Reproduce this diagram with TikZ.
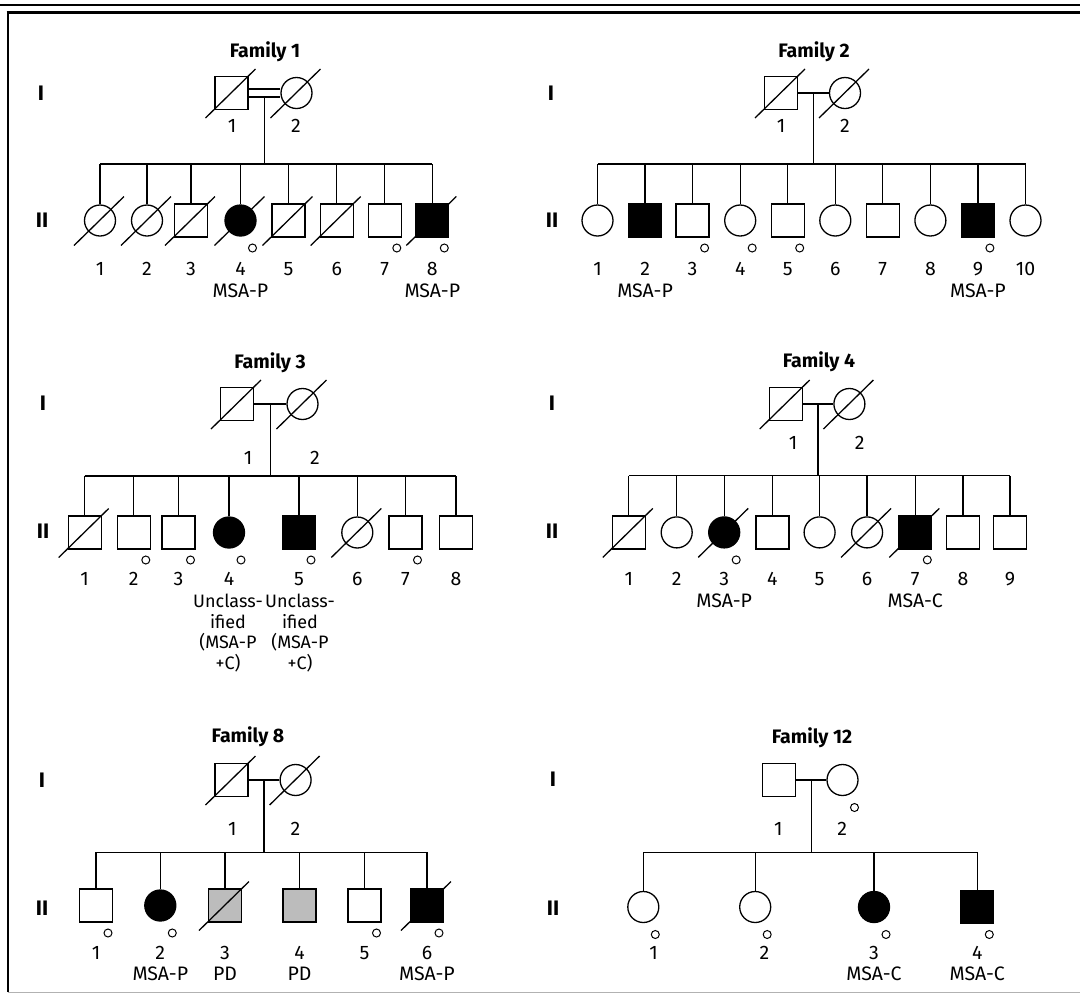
\documentclass[tikz,border=0pt]{standalone}
\usepackage{fontspec}
\setmainfont{Fira Sans}
\usetikzlibrary{calc}
\usepackage{xcolor}
\definecolor{PDGray}{RGB}{188,188,188}
\newcommand{\lblfont}{\fontsize{19.5}{20.5}\selectfont}
\newcommand{\ttlfont}{\fontsize{19.5}{22}\selectfont\bfseries}
\newcommand{\genfont}{\fontsize{21}{22}\selectfont\bfseries}
\tikzset{
  sym/.style={draw,line width=1.3pt,inner sep=0pt},
  man/.style={sym,rectangle,minimum size=33pt},
  fem/.style={sym,circle,minimum size=31pt},
  manaff/.style={man,fill=black},
  femaff/.style={fem,fill=black},
  manpd/.style={man,fill=PDGray},
  link/.style={line width=1.3pt},
  dslash/.style={line width=1.3pt},
  obsv/.style={circle,draw,line width=1pt,minimum size=8pt,inner sep=0pt},
  lbl/.style={font=\lblfont,anchor=base,inner sep=0pt},
  lblwide/.style={font=\fontsize{18}{20.5}\selectfont,anchor=north,align=center,inner sep=0pt},
  ttl/.style={font=\ttlfont,anchor=base,inner sep=0pt},
  gen/.style={font=\genfont,anchor=base,inner sep=0pt},
  frame/.style={line width=2.4pt},
}

\begin{document}
\begin{tikzpicture}[x=1pt,y=-1pt]
\useasboundingbox (0,0) rectangle (1080,994);
% frame
\draw[frame] (0,5) -- (1080,5);
\draw[frame] (6.5,12.5) -- (1080,12.5);
\draw[line width=2pt] (7.5,11.5) -- (7.5,992);
\draw[line width=1pt,black!30] (7.5,992) -- (1080,992);

% Family 1
\node[ttl] (f1t) at (265,57) {Family 1};
\node[gen] (f1g1) at (41,100) {I};
\node[gen] (f1g2) at (42,227.5) {II};
\node[man] (f1fa) at (231.5,93) {};
\node[fem] (f1mo) at (296.5,93) {};
\draw[link] ([yshift=4pt]f1fa.east) -- ([yshift=4pt]f1mo.west);
\draw[link] ([yshift=-4pt]f1fa.east) -- ([yshift=-4pt]f1mo.west);
\coordinate (f1m) at ($(f1fa.east)!.5!(f1mo.west)+(0,4)$);
\coordinate (f1s) at (0,164);
\node[lbl] (f1n1) at (232,132) {1};
\node[lbl] (f1n2) at (296,132) {2};
\foreach \x/\s [count=\i] in {100/fem,147/fem,191/man,240.5/femaff,288.5/man,336.7/man,384.8/man,432.3/manaff}{
  \node[\s] (f1c\i) at (\x,220.5) {};
  \draw[link] (f1c\i.north) -- (f1c\i.north |- f1s);
  \node[lbl] (f1k\i) at (\x,275) {\i};
}
\draw[link] (f1c1.north |- f1s) -- (f1c8.north |- f1s);
\draw[link] (f1m) -- (f1m |- f1s);
\foreach \p in {f1fa,f1mo,f1c1,f1c2,f1c3,f1c4,f1c5,f1c6,f1c8}
  \draw[dslash] ([shift={(-26,25)}]\p.center) -- ([shift={(24,-24)}]\p.center);
\foreach \p in {f1c4,f1c7,f1c8}
  \node[obsv] (obs-\p) at ([shift={(12,27.5)}]\p.center) {};
\node[lbl] (f1d4) at (240.5,297) {MSA-P};
\node[lbl] (f1d8) at (432.3,297) {MSA-P};

% Family 2
\node[ttl] (f2t) at (814,57) {Family 2};
\node[gen] (f2g1) at (551,100) {I};
\node[gen] (f2g2) at (552,227.5) {II};
\node[man] (f2fa) at (781,93) {};
\node[fem] (f2mo) at (845,93) {};
\draw[link] (f2fa) -- (f2mo);
\coordinate (f2m) at ($(f2fa.east)!.5!(f2mo.west)$);
\coordinate (f2s) at (0,164);
\node[lbl] (f2n1) at (781,132) {1};
\node[lbl] (f2n2) at (845,132) {2};
\foreach \x/\s [count=\i] in {597.5/fem,645.1/manaff,692.6/man,740.2/fem,787.7/man,835.3/fem,882.8/man,930.4/fem,977.9/manaff,1025.5/fem}{
  \node[\s] (f2c\i) at (\x,220.5) {};
  \draw[link] (f2c\i.north) -- (f2c\i.north |- f2s);
  \node[lbl] (f2k\i) at (\x,275) {\i};
}
\draw[link] (f2c1.north |- f2s) -- (f2c10.north |- f2s);
\draw[link] (f2m) -- (f2m |- f2s);
\foreach \p in {f2fa,f2mo}
  \draw[dslash] ([shift={(-26,25)}]\p.center) -- ([shift={(24,-24)}]\p.center);
\foreach \p in {f2c3,f2c4,f2c5,f2c9}
  \node[obsv] (obs-\p) at ([shift={(12,27.5)}]\p.center) {};
\node[lbl] (f2d2) at (645.1,297) {MSA-P};
\node[lbl] (f2d9) at (977.9,297) {MSA-P};

% Family 3
\node[ttl] (f3t) at (270,368.7) {Family 3};
\node[gen] (f3g1) at (43,410) {I};
\node[gen] (f3g2) at (43,538.7) {II};
\node[man] (f3fa) at (237,404) {};
\node[fem] (f3mo) at (302.5,404) {};
\draw[link] (f3fa) -- (f3mo);
\coordinate (f3m) at ($(f3fa.east)!.5!(f3mo.west)$);
\coordinate (f3s) at (0,476);
\node[lbl] (f3n1) at (248,464) {1};
\node[lbl] (f3n2) at (315,464) {2};
\foreach \x/\s [count=\i] in {84.7/man,133.8/man,178.5/man,229/femaff,299/manaff,357.3/fem,405.5/man,456.1/man}{
  \node[\s] (f3c\i) at (\x,532.5) {};
  \draw[link] (f3c\i.north) -- (f3c\i.north |- f3s);
  \node[lbl] (f3k\i) at (\x,585) {\i};
}
\draw[link] (f3c1.north |- f3s) -- (f3c8.north |- f3s);
\draw[link] (f3m) -- (f3m |- f3s);
\foreach \p in {f3fa,f3mo,f3c1,f3c6}
  \draw[dslash] ([shift={(-26,25)}]\p.center) -- ([shift={(24,-24)}]\p.center);
\foreach \p in {f3c2,f3c3,f3c4,f3c5,f3c7}
  \node[obsv] (obs-\p) at ([shift={(12,27.5)}]\p.center) {};
\node[lblwide] (f3d4) at (228,594) {Unclass-\\ified\\(MSA-P\\+C)};
\node[lblwide] (f3d5) at (300,594) {Unclass-\\ified\\(MSA-P\\+C)};

% Family 4
\node[ttl] (f4t) at (819,367) {Family 4};
\node[gen] (f4g1) at (552,410.3) {I};
\node[gen] (f4g2) at (552,538.7) {II};
\node[man] (f4fa) at (785.7,404) {};
\node[fem] (f4mo) at (849.4,404) {};
\draw[link] (f4fa) -- (f4mo);
\coordinate (f4m) at ($(f4fa.east)!.5!(f4mo.west)$);
\coordinate (f4s) at (0,475.7);
\node[lbl] (f4n1) at (793,449) {1};
\node[lbl] (f4n2) at (859.6,449) {2};
\foreach \x/\s [count=\i] in {628.8/man,676.7/fem,724.2/femaff,772.4/man,819.6/fem,867.1/fem,915.3/manaff,962.9/man,1010/man}{
  \node[\s] (f4c\i) at (\x,532.4) {};
  \draw[link] (f4c\i.north) -- (f4c\i.north |- f4s);
  \node[lbl] (f4k\i) at (\x,585.3) {\i};
}
\draw[link] (f4c1.north |- f4s) -- (f4c9.north |- f4s);
\draw[link] (f4m) -- (f4m |- f4s);
\foreach \p in {f4fa,f4mo,f4c1,f4c3,f4c6,f4c7}
  \draw[dslash] ([shift={(-26,25)}]\p.center) -- ([shift={(24,-24)}]\p.center);
\foreach \p in {f4c3,f4c7}
  \node[obsv] (obs-\p) at ([shift={(12,27.5)}]\p.center) {};
\node[lbl] (f4d3) at (724.2,607.7) {MSA-P};
\node[lbl] (f4d7) at (915.3,607.7) {MSA-C};

% Family 8
\node[ttl] (f8t) at (248,742) {Family 8};
\node[gen] (f8g1) at (42,787) {I};
\node[gen] (f8g2) at (42,915) {II};
\node[man] (f8fa) at (231.5,780) {};
\node[fem] (f8mo) at (295.6,780) {};
\draw[link] (f8fa) -- (f8mo);
\coordinate (f8m) at ($(f8fa.east)!.5!(f8mo.west)$);
\coordinate (f8s) at (0,852.3);
\node[lbl] (f8n1) at (232.4,835.3) {1};
\node[lbl] (f8n2) at (295.5,835.3) {2};
\foreach \x/\s [count=\i] in {96/man,160.3/femaff,225/manpd,299.6/manpd,364.5/man,427/manaff}{
  \node[\s] (f8c\i) at (\x,905.5) {};
  \draw[link] (f8c\i.north) -- (f8c\i.north |- f8s);
  \node[lbl] (f8k\i) at (\x,959.7) {\i};
}
\draw[link] (f8c1.north |- f8s) -- (f8c6.north |- f8s);
\draw[link] (f8m) -- (f8m |- f8s);
\foreach \p in {f8fa,f8mo,f8c3,f8c6}
  \draw[dslash] ([shift={(-26,25)}]\p.center) -- ([shift={(24,-24)}]\p.center);
\foreach \p in {f8c1,f8c2,f8c5,f8c6}
  \node[obsv] (obs-\p) at ([shift={(12,27.5)}]\p.center) {};
\node[lbl] (f8d2) at (160.3,980.3) {MSA-P};
\node[lbl] (f8d3) at (225,980.3) {PD};
\node[lbl] (f8d4) at (299.6,980.3) {PD};
\node[lbl] (f8d6) at (427,980.3) {MSA-P};

% Family 12
\node[ttl] (f12t) at (812,743) {Family 12};
\node[gen] (f12g1) at (553,786.3) {I};
\node[gen] (f12g2) at (553,915.3) {II};
\node[man] (f12fa) at (779,780) {};
\node[fem] (f12mo) at (842.5,780) {};
\draw[link] (f12fa) -- (f12mo);
\coordinate (f12m) at ($(f12fa.east)!.5!(f12mo.west)$);
\coordinate (f12s) at (0,852.3);
\node[lbl] (f12n1) at (778.3,835.3) {1};
\node[lbl] (f12n2) at (842.3,835.3) {2};
\foreach \x/\s/\nx [count=\i] in {643.3/fem/653.6,755.2/fem/764.5,874/femaff/874,977.3/manaff/977.3}{
  \node[\s] (f12c\i) at (\x,907) {};
  \draw[link] (f12c\i.north) -- (f12c\i.north |- f12s);
  \node[lbl] (f12k\i) at (\nx,959.7) {\i};
}
\draw[link] (f12c1.north |- f12s) -- (f12c4.north |- f12s);
\draw[link] (f12m) -- (f12m |- f12s);
\foreach \p in {f12mo,f12c1,f12c2,f12c3,f12c4}
  \node[obsv] (obs-\p) at ([shift={(12,27.5)}]\p.center) {};
\node[lbl] (f12d3) at (874,980.3) {MSA-C};
\node[lbl] (f12d4) at (977.3,980.3) {MSA-C};
\end{tikzpicture}
\end{document}
